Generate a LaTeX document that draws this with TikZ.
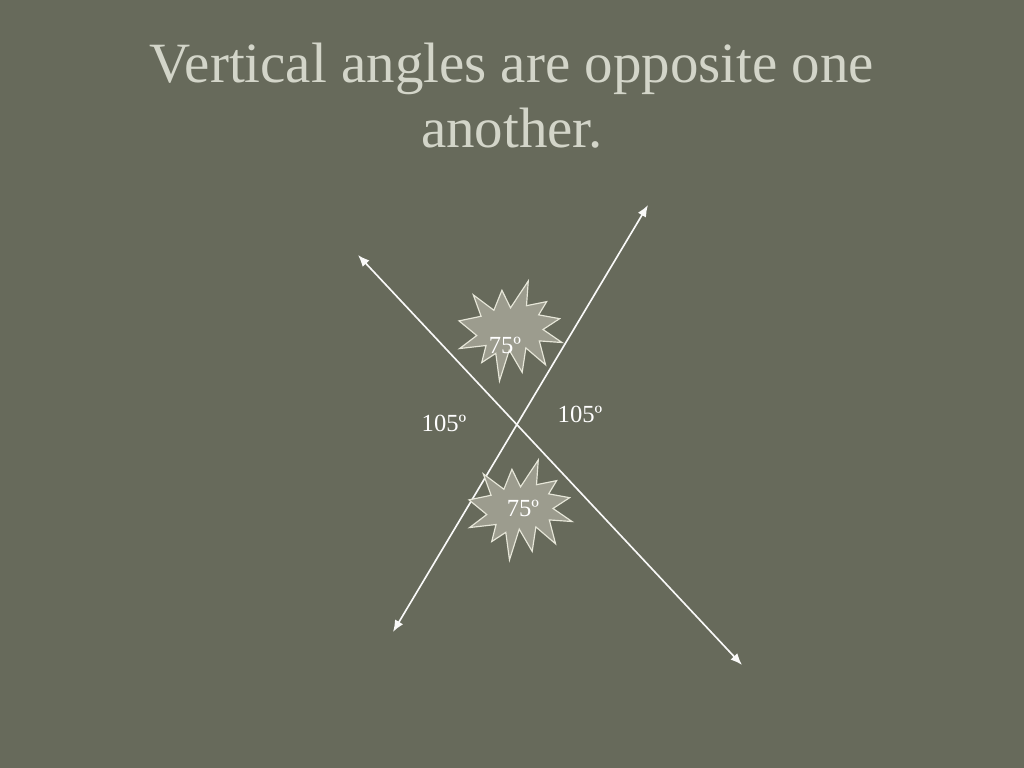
\documentclass[tikz,border=0pt]{standalone}
\usepackage{fontspec}
\setmainfont{Liberation Serif}
\usepackage{tikz}
\usetikzlibrary{arrows.meta}
\definecolor{slidebg}{HTML}{676A5B}
\definecolor{titlegray}{HTML}{D3D5C9}
\definecolor{burstfill}{HTML}{9C9C8E}
\definecolor{burstedge}{HTML}{E6E6D8}
\tikzset{
  ray/.style={draw=white!96!slidebg, line width=1.4pt, {Latex[length=10pt,width=8pt]}-{Latex[length=10pt,width=8pt]}},
  burst/.style={fill=burstfill, draw=burstedge, line width=1pt, line join=miter},
  anglabel/.style={text=white, font=\fontsize{21}{25}\selectfont, inner sep=0pt, anchor=base}
}
% explosion shape, top left corner at (#1,#2), size 216 x 216 units before scaling
\newcommand{\burstshape}[2]{
  \begin{scope}[shift={(#1,#2)},xscale=0.477,yscale=0.463]
    \draw[burst] (108,58) -- (145.22,0) -- (141.55,53.25) -- (183.8,44.57) -- (167.02,73.15)
      -- (210.97,81.37) -- (176.07,104.75) -- (216,132.9) -- (168.37,129.42) -- (181.45,180.95)
      -- (140.2,144.57) -- (132.47,197.37) -- (105.32,149.35) -- (84.85,216) -- (77.15,156.27)
      -- (47.62,176.17) -- (56.67,139.37) -- (1.35,145.87) -- (37.22,117.75) -- (0,86.15)
      -- (46.27,76.17) -- (30,30) -- (73.12,63.2) -- (90,20) -- cycle;
  \end{scope}}

\begin{document}
\begin{tikzpicture}[x=0.03cm,y=-0.03cm]
        \fill[slidebg] (0,0) rectangle (1024,768);
        \useasboundingbox (0,0) rectangle (1024,768);
        %title
        \node[text=titlegray, align=center, anchor=base, inner sep=0pt,
              font=\fontsize{48.6}{56.3}\selectfont] (title) at (512,148)
              {Vertical angles are opposite one\\another.};
        %ends of the two lines
        \coordinate (ul) at (358,255);
        \coordinate (lr) at (742,665);
        \coordinate (ur) at (648,205);
        \coordinate (ll) at (393,632);
        \draw[ray] (ul) -- (lr);
        \draw[ray] (ur) -- (ll);
        %bursts
        \burstshape{459}{281}
        \burstshape{469}{460}
        %labels
        \node[anglabel] (top) at (505,354) {75º};
        \node[anglabel] (bottom) at (523,517) {75º};
        \node[anglabel] (left) at (444,432) {105º};
        \node[anglabel] (right) at (580,423) {105º};
\end{tikzpicture}
\end{document}
